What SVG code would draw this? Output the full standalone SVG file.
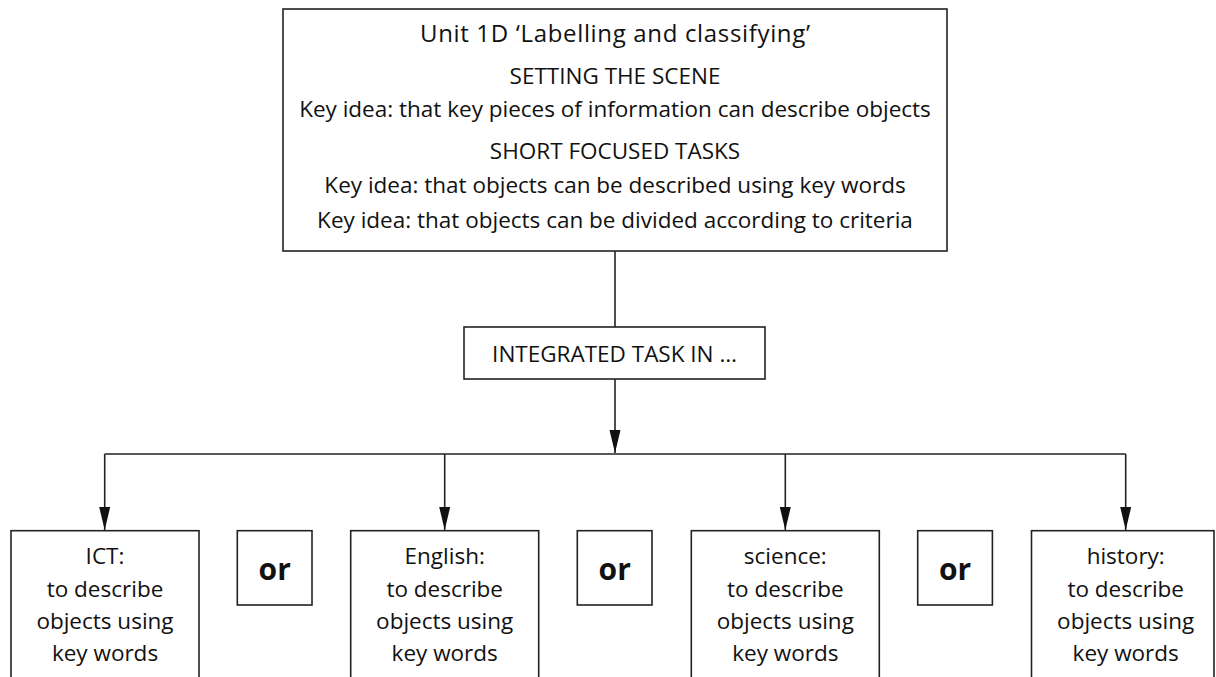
<svg xmlns="http://www.w3.org/2000/svg" width="1216" height="677" viewBox="0 0 1216 677">
  <style>
    .box { fill: #fff; stroke: #222; stroke-width: 1.6; }
    .conn { fill: none; stroke: #222; stroke-width: 1.6; }
    .t { font-family: "Open Sans", "Liberation Sans", sans-serif; font-size: 22.5px; fill: #111; text-anchor: middle; }
    .or { font-family: "Open Sans", "Liberation Sans", sans-serif; font-size: 30px; font-weight: bold; fill: #111; text-anchor: middle; }
  </style>
  <defs>
    <marker id="arrow" markerUnits="userSpaceOnUse" markerWidth="24" markerHeight="12" refX="23" refY="5.5" orient="auto">
      <path d="M0,0 L23,5.5 L0,11 Z" fill="#111"/>
    </marker>
  </defs>
  <rect width="1216" height="677" fill="#fff"/>

  <g id="connectors">
    <line class="conn" x1="615" y1="251" x2="615" y2="327"/>
    <line class="conn" x1="615" y1="379" x2="615" y2="453" marker-end="url(#arrow)"/>
    <line class="conn" x1="104.7" y1="454" x2="1125.7" y2="454"/>
    <line class="conn" x1="104.7" y1="454" x2="104.7" y2="530" marker-end="url(#arrow)"/>
    <line class="conn" x1="444.7" y1="454" x2="444.7" y2="530" marker-end="url(#arrow)"/>
    <line class="conn" x1="785.3" y1="454" x2="785.3" y2="530" marker-end="url(#arrow)"/>
    <line class="conn" x1="1125.7" y1="454" x2="1125.7" y2="530" marker-end="url(#arrow)"/>
  </g>

  <g id="unit">
    <rect class="box" x="283" y="9" width="664" height="242"/>
    <text class="t" x="615" y="42" style="font-size:24px" textLength="390" lengthAdjust="spacing">Unit 1D ‘Labelling and classifying’</text>
    <text class="t" x="615" y="84">SETTING THE SCENE</text>
    <text class="t" x="615" y="117">Key idea: that key pieces of information can describe objects</text>
    <text class="t" x="615" y="159">SHORT FOCUSED TASKS</text>
    <text class="t" x="615" y="193">Key idea: that objects can be described using key words</text>
    <text class="t" x="615" y="228">Key idea: that objects can be divided according to criteria</text>
  </g>

  <g id="integrated">
    <rect class="box" x="464" y="327" width="301" height="52"/>
    <text class="t" x="614.5" y="361.5">INTEGRATED TASK IN …</text>
  </g>

  <g id="ict">
    <rect class="box" x="11" y="530.7" width="188" height="170"/>
    <text class="t" x="105" y="564">ICT:</text>
    <text class="t" x="105" y="596.5">to describe</text>
    <text class="t" x="105" y="628.5">objects using</text>
    <text class="t" x="105" y="660.5">key words</text>
  </g>

  <g id="or1">
    <rect class="box" x="237.3" y="530.7" width="74.7" height="74.3"/>
    <text class="or" x="274.7" y="580">or</text>
  </g>

  <g id="english">
    <rect class="box" x="350.7" y="530.7" width="188" height="170"/>
    <text class="t" x="444.7" y="564">English:</text>
    <text class="t" x="444.7" y="596.5">to describe</text>
    <text class="t" x="444.7" y="628.5">objects using</text>
    <text class="t" x="444.7" y="660.5">key words</text>
  </g>

  <g id="or2">
    <rect class="box" x="577.3" y="530.7" width="74.7" height="74.3"/>
    <text class="or" x="614.7" y="580">or</text>
  </g>

  <g id="science">
    <rect class="box" x="691.3" y="530.7" width="188" height="170"/>
    <text class="t" x="785.3" y="564">science:</text>
    <text class="t" x="785.3" y="596.5">to describe</text>
    <text class="t" x="785.3" y="628.5">objects using</text>
    <text class="t" x="785.3" y="660.5">key words</text>
  </g>

  <g id="or3">
    <rect class="box" x="917.7" y="530.7" width="74.7" height="74.3"/>
    <text class="or" x="955" y="580">or</text>
  </g>

  <g id="history">
    <rect class="box" x="1031.5" y="530.7" width="182.5" height="170"/>
    <text class="t" x="1125.7" y="564">history:</text>
    <text class="t" x="1125.7" y="596.5">to describe</text>
    <text class="t" x="1125.7" y="628.5">objects using</text>
    <text class="t" x="1125.7" y="660.5">key words</text>
  </g>
</svg>
